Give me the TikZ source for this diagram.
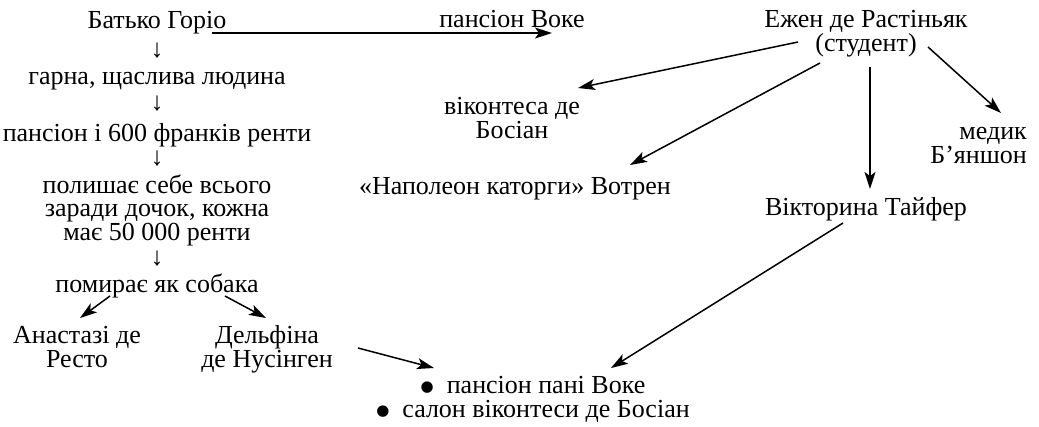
\documentclass[tikz,border=0pt]{standalone}
\usepackage{fontspec}
\setmainfont{Liberation Serif}
\newfontfamily\djv{DejaVu Sans}
\newcommand\bul{\raisebox{2pt}{\djv\fontsize{15}{15}\selectfont ●}\hspace{13pt}}
\usetikzlibrary{arrows.meta}
\begin{document}
\begin{tikzpicture}[x=1pt,y=-1pt,
  lbl/.style={inner sep=0pt,align=center,anchor=base,font=\fontsize{26}{23.5}\selectfont},
  arr/.style={line width=1.5pt,-{Stealth[length=17pt,width=11pt,inset=4pt]}}]
\useasboundingbox (0,0) rectangle (1039,426);
% left column
\node[lbl] (gorio) at (157,28) {Батько Горіо};
\node[lbl] (d1) at (157,57) {↓};
\node[lbl] (happy) at (157,84) {гарна, щаслива людина};
\node[lbl] (d2) at (157,110) {↓};
\node[lbl] (pens) at (157,141) {пансіон і 600 франків ренти};
\node[lbl] (d3) at (157,165) {↓};
\node[lbl] (leaves) at (157,240) {полишає себе всього\\заради дочок, кожна\\має 50 000 ренти};
\node[lbl] (d4) at (157,265) {↓};
\node[lbl] (dies) at (157,292) {помирає як собака};
\node[lbl] (anast) at (77,367) {Анастазі де\\Ресто};
\node[lbl] (delph) at (267,367) {Дельфіна\\де Нусінген};
\node[lbl] (places) at (533,417) {\bul пансіон пані Воке\\\bul салон віконтеси де Босіан};
% right part
\node[lbl] (voke) at (512,27) {пансіон Воке};
\node[lbl] (ezhen) at (866,51) {Ежен де Растіньяк\\(студент)};
\node[lbl] (vicom) at (512,138) {віконтеса де\\Босіан};
\node[lbl] (vautrin) at (515,194) {«Наполеон каторги» Вотрен};
\node[lbl,align=right,anchor=base east] (bian) at (1027,163) {медик\\Б’яншон};
\node[lbl] (victor) at (866,215) {Вікторина Тайфер};
% connector ends
\coordinate (g1) at (212,33); \coordinate (v1) at (552,33);
\coordinate (s1) at (110,296); \coordinate (a1) at (80,318);
\coordinate (s2) at (225,296); \coordinate (b1) at (266,318);
\coordinate (dl) at (358,348); \coordinate (p1) at (434,368);
\coordinate (vt) at (843,223); \coordinate (p2) at (611,368);
\coordinate (e1) at (798,42); \coordinate (c1) at (578,88);
\coordinate (e2) at (820,63); \coordinate (c2) at (630,165);
\coordinate (e3) at (870,67); \coordinate (c3) at (870,189);
\coordinate (e4) at (928,47); \coordinate (c4) at (1001,113);
\draw[arr] (g1) -- (v1);
\draw[arr] (s1) -- (a1);
\draw[arr] (s2) -- (b1);
\draw[arr] (dl) -- (p1);
\draw[arr] (vt) -- (p2);
\draw[arr] (e1) -- (c1);
\draw[arr] (e2) -- (c2);
\draw[arr] (e3) -- (c3);
\draw[arr] (e4) -- (c4);
\end{tikzpicture}
\end{document}
